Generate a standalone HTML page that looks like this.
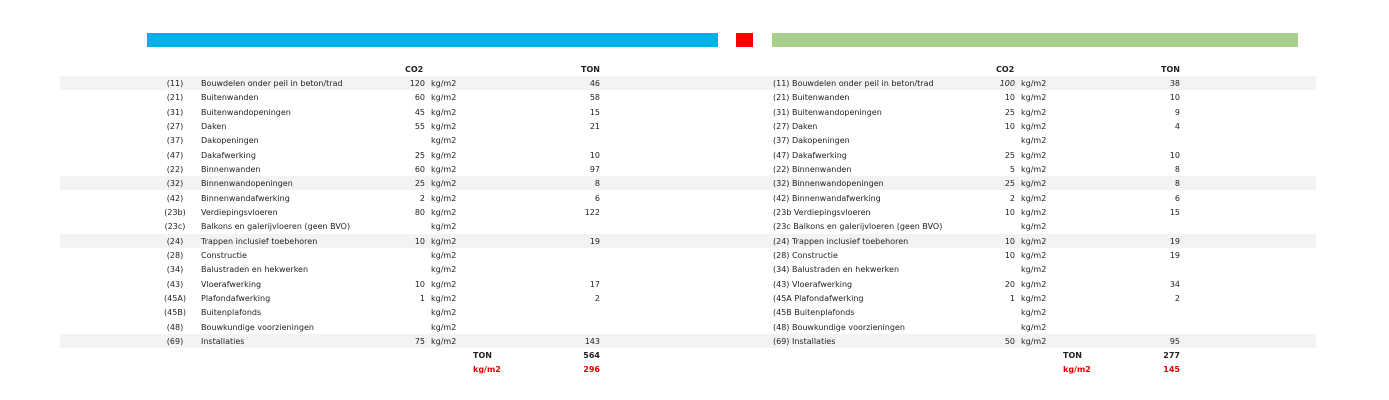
<!DOCTYPE html><html><head><style>
body{margin:0;width:1389px;height:400px;background:#fff;position:relative;font-family:"DejaVu Sans","Liberation Sans",sans-serif;font-size:8px;color:#222;overflow:hidden}
.a{position:absolute;white-space:nowrap;line-height:10px}
.r{text-align:right}
.b{font-weight:bold}
.red{color:#e00000}
.sh{position:absolute;left:60px;width:1256px;height:14px;background:#f3f3f3}
</style></head><body>
<div class="a" style="left:147px;top:33px;width:571px;height:14px;background:#00b0e8"></div>
<div class="a" style="left:736px;top:33px;width:17px;height:14px;background:#ff0000"></div>
<div class="a" style="left:772px;top:33px;width:526px;height:14px;background:#a9cf8c"></div>
<div class="a b" style="left:405px;top:65px">CO2</div>
<div class="a b r" style="left:560px;width:40px;top:65px">TON</div>
<div class="a b" style="left:996px;top:65px">CO2</div>
<div class="a b r" style="left:1140px;width:40px;top:65px">TON</div>
<div id="rows"></div>
<script>
var L=[["(11)","Bouwdelen onder peil in beton/trad","120","46","(11) Bouwdelen onder peil in beton/trad","100","38",1],
["(21)","Buitenwanden","60","58","(21) Buitenwanden","10","10"],
["(31)","Buitenwandopeningen","45","15","(31) Buitenwandopeningen","25","9"],
["(27)","Daken","55","21","(27) Daken","10","4"],
["(37)","Dakopeningen","","","(37) Dakopeningen","",""],
["(47)","Dakafwerking","25","10","(47) Dakafwerking","25","10"],
["(22)","Binnenwanden","60","97","(22) Binnenwanden","5","8"],
["(32)","Binnenwandopeningen","25","8","(32) Binnenwandopeningen","25","8",1],
["(42)","Binnenwandafwerking","2","6","(42) Binnenwandafwerking","2","6"],
["(23b)","Verdiepingsvloeren","80","122","(23b Verdiepingsvloeren","10","15"],
["(23c)","Balkons en galerijvloeren (geen BVO)","","","(23c Balkons en galerijvloeren (geen BVO)","",""],
["(24)","Trappen inclusief toebehoren","10","19","(24) Trappen inclusief toebehoren","10","19",1],
["(28)","Constructie","","","(28) Constructie","10","19"],
["(34)","Balustraden en hekwerken","","","(34) Balustraden en hekwerken","",""],
["(43)","Vloerafwerking","10","17","(43) Vloerafwerking","20","34"],
["(45A)","Plafondafwerking","1","2","(45A Plafondafwerking","1","2"],
["(45B)","Buitenplafonds","","","(45B Buitenplafonds","",""],
["(48)","Bouwkundige voorzieningen","","","(48) Bouwkundige voorzieningen","",""],
["(69)","Installaties","75","143","(69) Installaties","50","95",1]];
var h="";
L.forEach(function(d,i){var y=79+i*14.33;
if(d[7])h+='<div class="sh" style="top:'+(y-3)+'px"></div>';
h+='<div class="a" style="left:155px;width:40px;text-align:center;top:'+y+'px">'+d[0]+'</div>';
h+='<div class="a" style="left:201px;top:'+y+'px">'+d[1]+'</div>';
h+='<div class="a r" style="left:385px;width:40px;top:'+y+'px">'+d[2]+'</div>';
h+='<div class="a" style="left:431px;top:'+y+'px">kg/m2</div>';
h+='<div class="a r" style="left:560px;width:40px;top:'+y+'px">'+d[3]+'</div>';
h+='<div class="a" style="left:773px;top:'+y+'px">'+d[4]+'</div>';
h+='<div class="a r" style="left:975px;width:40px;top:'+y+'px'+(i==0?';font-style:italic':'')+'">'+d[5]+'</div>';
h+='<div class="a" style="left:1021px;top:'+y+'px">kg/m2</div>';
h+='<div class="a r" style="left:1140px;width:40px;top:'+y+'px">'+d[6]+'</div>';});
document.getElementById("rows").innerHTML=h;
</script>
<div class="a b" style="left:473px;top:351px">TON</div>
<div class="a b r" style="left:560px;width:40px;top:351px">564</div>
<div class="a b red" style="left:473px;top:365px">kg/m2</div>
<div class="a b r red" style="left:560px;width:40px;top:365px">296</div>
<div class="a b" style="left:1063px;top:351px">TON</div>
<div class="a b r" style="left:1140px;width:40px;top:351px">277</div>
<div class="a b red" style="left:1063px;top:365px">kg/m2</div>
<div class="a b r red" style="left:1140px;width:40px;top:365px">145</div>
</body></html>
